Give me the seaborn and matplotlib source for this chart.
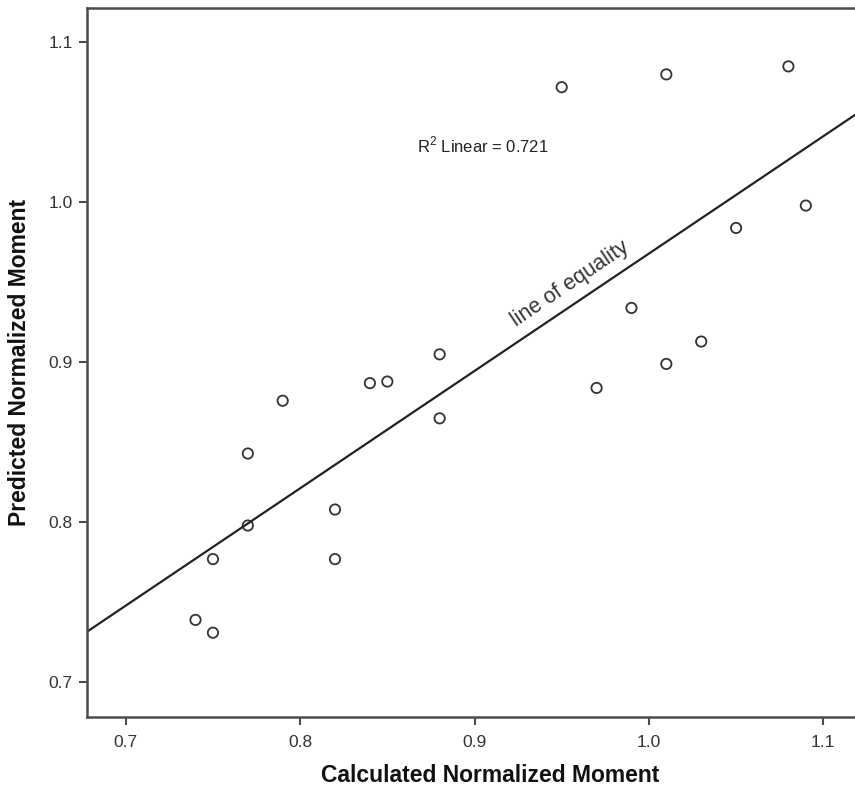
import numpy as np
import matplotlib
matplotlib.use("Agg")
import matplotlib.pyplot as plt
import seaborn as sns

# Values
calculated = [0.74, 0.75, 0.75, 0.77, 0.77, 0.79, 0.82, 0.82, 0.84, 0.85, 0.88,
              0.88, 0.95, 0.97, 0.99, 1.01, 1.01, 1.03, 1.05, 1.08, 1.09]
predicted = [0.739, 0.731, 0.777, 0.798, 0.843, 0.876, 0.808, 0.777, 0.887, 0.888, 0.905,
             0.865, 1.072, 0.884, 0.934, 1.080, 0.899, 0.913, 0.984, 1.085, 0.998]
x_ticks = [0.7, 0.8, 0.9, 1.0, 1.1]
y_ticks = [0.7, 0.8, 0.9, 1.0, 1.1]
r2_label = r"R$^{\mathrm{2}}$ Linear = 0.721"
line_label = "line of equality"

sns.set_style("ticks")
plt.rcParams["font.family"] = ["Liberation Sans", "DejaVu Sans"]
plt.rcParams["mathtext.fontset"] = "custom"
plt.rcParams["mathtext.rm"] = "Liberation Sans"

fig = plt.figure(figsize=(8.55, 7.92), dpi=100)
ax = fig.add_axes([0.1012, 0.0947, 0.8988, 0.8948])

ax.set_xlim(0.6775, 1.1182)
ax.set_ylim(0.6783, 1.1213)

# scatter + least squares line across the whole axis
sns.regplot(x=calculated, y=predicted, ax=ax, ci=None, truncate=False,
            scatter_kws=dict(s=55, facecolors="none", edgecolors="#333333",
                             linewidths=1.3, alpha=1),
            line_kws=dict(color="#222222", lw=1.6))

ax.set_xlim(0.6775, 1.1182)
ax.set_ylim(0.6783, 1.1213)
ax.set_xticks(x_ticks)
ax.set_yticks(y_ticks)
ax.set_xticklabels([f"{v:.1f}" for v in x_ticks])
ax.set_yticklabels([f"{v:.1f}" for v in y_ticks])

for side in ["left", "bottom", "top"]:
    ax.spines[side].set_color("#4d4d4d")
    ax.spines[side].set_linewidth(1.8)
ax.spines["right"].set_visible(False)
ax.tick_params(direction="out", length=6, width=1.5, color="#4d4d4d",
               labelsize=12.5, labelcolor="#333333")
ax.tick_params(axis="x", pad=7)
ax.tick_params(axis="y", pad=4)

label_font = dict(fontweight="bold", fontsize=16.5, color="#111111")
ax.set_xlabel("Calculated Normalized Moment", **label_font)
ax.set_ylabel("Predicted Normalized Moment", **label_font)
ax.xaxis.set_label_coords(0.525, -0.066)
ax.yaxis.set_label_coords(-0.072, 0.5)

ax.text(0.867, 1.036, r2_label, fontsize=12, color="#222222", va="center", ha="left")
ax.text(0.955, 0.949, line_label, fontsize=15.5, color="#333333", rotation=34,
        rotation_mode="anchor", ha="center", va="center")

fig.savefig("out.png", dpi=100)
